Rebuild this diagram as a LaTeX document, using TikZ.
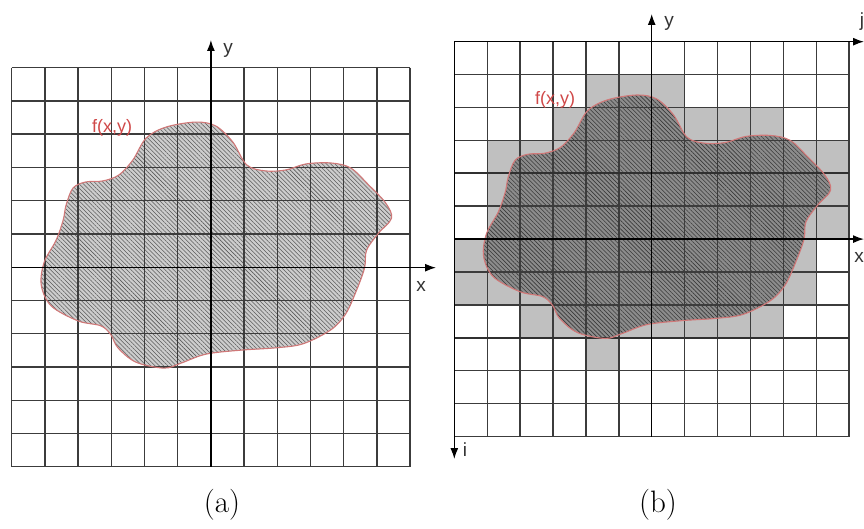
\documentclass[tikz,border=0pt]{standalone}
\usepackage{fontspec}
\newfontfamily\labfont{Liberation Sans}
\usetikzlibrary{arrows.meta,patterns.meta}
\definecolor{gridc}{HTML}{3C3C3C}
\definecolor{cellc}{HTML}{C0C0C0}
\definecolor{blobA}{HTML}{CDCDCD}
\definecolor{blobB}{HTML}{8C8C8C}
\definecolor{hatchA}{HTML}{5A5A5A}
\definecolor{hatchB}{HTML}{3A3A3A}
\definecolor{outl}{HTML}{D07878}
\definecolor{lblred}{HTML}{D04848}
\newcommand\blobshape[1]{\path[#1] plot[smooth cycle,tension=0.55] coordinates {
(-4.45,1.43) (-4.36,1.89) (-4.15,2.40) (-3.76,2.58) (-3.25,2.61) (-2.77,2.79)
(-2.35,3.24) (-1.95,3.90) (-1.35,4.23) (-0.45,4.38) (0.15,4.26) (0.66,3.78)
(1.08,3.09) (1.65,2.91) (2.26,2.94) (2.86,3.12) (3.61,3.15) (4.21,3.00)
(4.75,2.49) (5.26,1.95) (5.44,1.49) (5.05,1.04) (4.69,0.53) (4.63,0.0)
(4.39,-0.67) (4.06,-1.39) (3.61,-1.87) (2.77,-2.29) (1.95,-2.41) (0.90,-2.48)
(-0.15,-2.60) (-0.90,-2.87) (-1.41,-3.02) (-2.26,-2.84) (-2.80,-2.41) (-3.01,-2.02)
(-3.31,-1.75) (-4.0,-1.60) (-4.81,-1.15) (-5.11,-0.52) (-5.02,0.17) (-4.66,0.83)};}
\tikzset{
  gridline/.style={draw=gridc, line width=1.4pt},
  thickgrid/.style={draw=gridc!80!black, line width=1.9pt},
  axisline/.style={draw=black, line width=1.3pt, -{Latex[length=11pt,width=8pt]}},
  axlabel/.style={font=\labfont\fontsize{19}{22}\selectfont, text=black!80, inner sep=0pt},
  flabel/.style={font=\labfont\fontsize{18}{21}\selectfont, text=lblred, inner sep=0pt},
  caption/.style={font=\fontsize{31}{36}\selectfont, inner sep=0pt},
  bloboutline/.style={draw=outl, line width=1.1pt},
}
\begin{document}
\begin{tikzpicture}[x=1pt,y=-1pt]
\useasboundingbox[fill=white] (0,0) rectangle (864,529);
% ---------- (a) ----------
\begin{scope}[xshift=210.9pt, yshift=-267.7pt, x=33.2pt, y=33.25pt]
  \blobshape{fill=blobA, postaction={pattern={Lines[angle=-45,distance=3pt,line width=0.55pt]}, pattern color=hatchA}}
\end{scope}
\foreach \i in {0,...,12} {
  \draw[gridline] ({11.7+\i*33.2},67.7) -- ({11.7+\i*33.2},466.7);
  \draw[gridline] (11.7,{67.7+\i*33.25}) -- (410.1,{67.7+\i*33.25});
}
\begin{scope}[xshift=210.9pt, yshift=-267.7pt, x=33.2pt, y=33.25pt]
  \blobshape{bloboutline}
\end{scope}
\coordinate (ayb) at (210.9,466.7);
\coordinate (ayt) at (210.9,40);
\coordinate (axl) at (11.7,267.7);
\coordinate (axr) at (436,267.7);
\draw[axisline] (ayb) -- (ayt);
\draw[axisline] (axl) -- (axr);
\node[axlabel] (ya) at (228,50) {y};
\node[axlabel] (xa) at (421,286) {x};
\node[flabel] (fa) at (112,128) {f(x,y)};
\node[caption] (capa) at (222,505) {(a)};
% ---------- (b) ----------
\foreach \r/\a/\b in {1/4/6, 2/3/9, 3/1/11, 4/1/11, 5/1/11, 6/0/10, 7/0/10, 8/2/9, 9/4/4}
  \fill[cellc] ({454.3+\a*32.9},{41.7+\r*32.9}) rectangle ({454.3+(\b+1)*32.9},{41.7+(\r+1)*32.9});
\begin{scope}[xshift=651.7pt, yshift=-239.1pt, x=32.9pt, y=32.9pt]
  \blobshape{fill=blobB, postaction={pattern={Lines[angle=-45,distance=3pt,line width=0.6pt]}, pattern color=hatchB}}
\end{scope}
\foreach \i in {0,...,12} {
  \draw[gridline] ({454.3+\i*32.9},41.7) -- ({454.3+\i*32.9},436.5);
  \draw[gridline] (454.3,{41.7+\i*32.9}) -- (849.1,{41.7+\i*32.9});
}
\draw[thickgrid] (454.3,{41.7+4*32.9}) -- (849.1,{41.7+4*32.9});
\draw[thickgrid] (454.3,{41.7+9*32.9}) -- (849.1,{41.7+9*32.9});
\begin{scope}[xshift=651.7pt, yshift=-239.1pt, x=32.9pt, y=32.9pt]
  \blobshape{bloboutline}
\end{scope}
\coordinate (o) at (454.3,41.7);
\coordinate (jt) at (864,41.7);
\coordinate (it) at (454.3,459);
\coordinate (byb) at (651.7,436.5);
\coordinate (byt) at (651.7,14);
\coordinate (bxl) at (454.3,239.1);
\coordinate (bxr) at (864,239.1);
\draw[axisline] (byb) -- (byt);
\draw[axisline] (bxl) -- (bxr);
\draw[axisline] (o) -- (jt);
\draw[axisline] (o) -- (it);
\node[axlabel] (yb) at (669,23) {y};
\node[axlabel] (jb) at (862,22) {j};
\node[axlabel] (xb) at (859,257) {x};
\node[axlabel] (ib) at (465,450) {i};
\node[flabel] (fb) at (555,100) {f(x,y)};
\node[caption] (capb) at (658,505) {(b)};
\end{tikzpicture}
\end{document}
